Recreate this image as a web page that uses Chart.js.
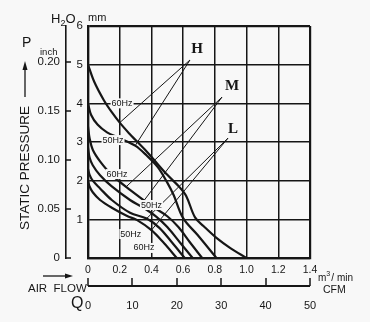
<!DOCTYPE html>
<meta charset="utf-8">
<title>Fan static pressure vs air flow</title>
<script src="https://cdn.jsdelivr.net/npm/chart.js@4/dist/chart.umd.min.js"></script>
<style>
body {
	margin: 0;
	background: #f8f8f8;
}
</style>
<canvas id="chart" width="370" height="322"></canvas>
<script>
// air flow in m3/min, static pressure in mm H2O
const h60Flow = [0, 0.04, 0.1, 0.15, 0.2, 0.26, 0.3, 0.36, 0.42, 0.5, 0.58, 0.62, 0.675, 0.73, 0.81, 0.9, 1.0];
const h60Pres = [5, 4.55, 4.08, 3.77, 3.5, 3.22, 3.05, 2.8, 2.52, 2.15, 1.82, 1.6, 1.05, 0.82, 0.52, 0.25, 0];
const h50Flow = [0, 0.02, 0.06, 0.12, 0.2, 0.3, 0.37, 0.44, 0.5, 0.54, 0.6, 0.69, 0.81];
const h50Pres = [4, 3.7, 3.45, 3.25, 3.1, 2.9, 2.65, 2.35, 1.95, 1.63, 1.03, 0.6, 0];
const m60Flow = [0, 0.01, 0.03, 0.076, 0.15, 0.265, 0.4, 0.5, 0.57, 0.64, 0.72];
const m60Pres = [3.4, 3.1, 2.8, 2.5, 2.15, 1.76, 1.35, 1.08, 0.8, 0.42, 0];
const m50Flow = [0, 0.01, 0.03, 0.076, 0.15, 0.265, 0.35, 0.43, 0.5, 0.58, 0.66];
const m50Pres = [2.85, 2.6, 2.4, 2.14, 1.85, 1.5, 1.3, 1.07, 0.8, 0.4, 0];
const l60Flow = [0, 0.01, 0.03, 0.076, 0.15, 0.265, 0.37, 0.45, 0.53, 0.61];
const l60Pres = [2.3, 2.15, 2.0, 1.8, 1.5, 1.17, 1.02, 0.78, 0.4, 0];
const l50Flow = [0, 0.01, 0.03, 0.076, 0.15, 0.25, 0.31, 0.4, 0.48, 0.56];
const l50Pres = [2.0, 1.85, 1.7, 1.5, 1.3, 1.08, 0.98, 0.72, 0.38, 0];

// leader lines: curve point -> label -> curve point
const hLeadFlow = [0.2, 0.643, 0.3];
const hLeadPres = [3.5, 5.12, 2.92];
const mLeadFlow = [0.24, 0.845, 0.33];
const mLeadPres = [1.84, 4.16, 1.36];
const lLeadFlow = [0.37, 0.883, 0.4];
const lLeadPres = [1.02, 3.1, 0.72];

// text labels placed in data units (flow, mm)
const curveNames = ['H', 'M', 'L'];
const curveNameFlow = [0.688, 0.908, 0.915];
const curveNamePres = [5.4, 4.44, 3.33];
const hzText = ['60Hz', '50Hz', '60Hz', '50Hz', '50Hz', '60Hz'];
const hzFlow = [0.215, 0.158, 0.183, 0.4, 0.27, 0.353];
const hzPres = [4.0, 3.05, 2.17, 1.37, 0.62, 0.26];

const INK = '#161616';
const BG = '#f8f8f8';
const SANS = '"Liberation Sans", Arial, sans-serif';
const SERIF = '"Liberation Serif", "DejaVu Serif", serif';

const pts = (xs, ys) => xs.map((x, i) => ({x: x, y: ys[i]}));

const curve = (xs, ys) => ({
	data: pts(xs, ys),
	borderColor: INK,
	borderWidth: 2.2,
	pointRadius: 0,
	tension: 0.35,
});

const leader = (xs, ys) => ({
	data: pts(xs, ys),
	borderColor: INK,
	borderWidth: 1,
	pointRadius: 0,
	tension: 0,
});

const deco = {
	id: 'deco',
	beforeDraw(chart) {
		const c = chart.ctx;
		c.save();
		c.fillStyle = BG;
		c.fillRect(0, 0, chart.width, chart.height);
		c.restore();
	},
	afterDatasetsDraw(chart) {
		const c = chart.ctx;
		const sx = chart.scales.x, sy = chart.scales.y;
		c.save();
		c.textAlign = 'center';
		c.textBaseline = 'middle';

		// Hz labels sit on a blank patch over the lines
		c.font = '9px ' + SANS;
		hzText.forEach((t, i) => {
			const px = sx.getPixelForValue(hzFlow[i]);
			const py = sy.getPixelForValue(hzPres[i]);
			const w = c.measureText(t).width;
			c.fillStyle = BG;
			c.fillRect(px - w / 2 - 1, py - 5, w + 2, 10);
			c.fillStyle = INK;
			c.fillText(t, px, py);
		});

		c.font = 'bold 15px ' + SERIF;
		curveNames.forEach((t, i) => {
			c.fillText(t, sx.getPixelForValue(curveNameFlow[i]), sy.getPixelForValue(curveNamePres[i]));
		});
		c.restore();
	},
	afterDraw(chart) {
		const c = chart.ctx;
		const sx = chart.scales.x, x2 = chart.scales.x2;
		const y2 = chart.scales.y2;
		c.save();
		c.strokeStyle = INK;
		c.fillStyle = INK;

		// inch scale tick marks point toward the plot
		c.lineWidth = 1.5;
		const yb = y2.right;
		y2.ticks.forEach(t => {
			const py = Math.round(y2.getPixelForValue(t.value));
			c.beginPath();
			c.moveTo(yb, py);
			c.lineTo(yb + 5, py);
			c.stroke();
		});

		// CFM scale: a baseline with ticks standing up
		const lineY = x2.top + 6;
		c.lineWidth = 2;
		c.beginPath();
		c.moveTo(x2.left, lineY);
		c.lineTo(x2.right, lineY);
		c.stroke();
		c.lineWidth = 1.5;
		x2.ticks.forEach(t => {
			const px = Math.round(x2.getPixelForValue(t.value));
			c.beginPath();
			c.moveTo(px, lineY);
			c.lineTo(px, lineY - 8);
			c.stroke();
		});

		// axis titles
		c.textBaseline = 'alphabetic';
		c.textAlign = 'left';
		c.font = '13px ' + SANS;
		c.fillText('H', 51, 23);
		const hw = c.measureText('H').width;
		c.font = '9px ' + SANS;
		c.fillText('2', 51 + hw, 26);
		c.font = '13px ' + SANS;
		c.fillText('O', 51 + hw + 5, 23);
		c.font = '11px ' + SANS;
		c.fillText('mm', 88, 21);

		c.font = '14px ' + SANS;
		c.fillText('P', 22, 47);
		c.font = '9.5px ' + SANS;
		c.fillText('inch', 40, 55);

		// pressure arrow
		c.lineWidth = 1.3;
		c.beginPath();
		c.moveTo(25, 97);
		c.lineTo(25, 66);
		c.stroke();
		c.beginPath();
		c.moveTo(25, 61);
		c.lineTo(22.5, 70);
		c.lineTo(27.5, 70);
		c.closePath();
		c.fill();

		c.save();
		c.translate(29, 168);
		c.rotate(-Math.PI / 2);
		c.textAlign = 'center';
		c.font = '13.5px ' + SANS;
		c.fillText('STATIC PRESSURE', 0, 0);
		c.restore();

		// flow arrow and titles
		c.beginPath();
		c.moveTo(43, 276);
		c.lineTo(67, 276);
		c.stroke();
		c.beginPath();
		c.moveTo(73, 276);
		c.lineTo(65, 273.5);
		c.lineTo(65, 278.5);
		c.closePath();
		c.fill();

		c.font = '11.5px ' + SANS;
		c.fillText('AIR  FLOW', 28, 292);
		c.font = '16px ' + SANS;
		c.fillText('Q', 71, 308);

		const rx = sx.right + 8;
		c.font = '10px ' + SANS;
		c.fillText('m', rx, 281);
		const mw = c.measureText('m').width;
		c.font = '7px ' + SANS;
		c.fillText('3', rx + mw, 276);
		c.font = '10px ' + SANS;
		c.fillText('/ min', rx + mw + 5, 281);
		c.font = '10.5px ' + SANS;
		c.fillText('CFM', rx + 5, 293);

		c.restore();
	}
};

const gridWidth = ctx => (ctx.index === 0 || ctx.index === ctx.scale.ticks.length - 1) ? 2.2 : 1.5;

new Chart(document.getElementById('chart'), {
	type: 'line',
	data: {
		datasets: [
			leader(hLeadFlow, hLeadPres),
			leader(mLeadFlow, mLeadPres),
			leader(lLeadFlow, lLeadPres),
			curve(h60Flow, h60Pres),
			curve(h50Flow, h50Pres),
			curve(m60Flow, m60Pres),
			curve(m50Flow, m50Pres),
			curve(l60Flow, l60Pres),
			curve(l50Flow, l50Pres),
		]
	},
	options: {
		responsive: false,
		animation: false,
		devicePixelRatio: 1,
		layout: {padding: {left: 0, right: 60, top: 26, bottom: 0}},
		plugins: {legend: {display: false}, tooltip: {enabled: false}},
		scales: {
			x: {
				type: 'linear',
				position: 'bottom',
				min: 0,
				max: 1.4,
				ticks: {
					stepSize: 0.2,
					padding: 6,
					color: INK,
					font: {family: SANS, size: 10.5},
					callback: v => v === 0 ? '0' : v.toFixed(1),
				},
				grid: {color: INK, lineWidth: gridWidth, drawTicks: false},
				border: {color: INK, width: 2.2},
				afterFit: s => { s.height = 22; },
			},
			x2: {
				type: 'linear',
				position: 'bottom',
				min: 0,
				max: 50,
				ticks: {
					stepSize: 10,
					padding: 11,
					color: INK,
					font: {family: SANS, size: 11},
				},
				grid: {display: false},
				border: {display: false},
				afterFit: s => { s.height = 42; },
			},
			y: {
				type: 'linear',
				position: 'left',
				weight: 0,
				min: 0,
				max: 6,
				ticks: {
					stepSize: 1,
					padding: 5,
					color: INK,
					font: {family: SANS, size: 11.5},
					callback: v => v === 0 ? '' : v,
				},
				grid: {color: INK, lineWidth: gridWidth, drawTicks: false},
				border: {color: INK, width: 2.2},
				afterFit: s => { s.width = 22; },
			},
			y2: {
				type: 'linear',
				position: 'left',
				weight: 1,
				min: 0,
				max: 6 / 25.4,
				ticks: {
					stepSize: 0.05,
					includeBounds: false,
					padding: 6,
					color: INK,
					font: {family: SANS, size: 11.5},
					callback: v => v === 0 ? '0' : v.toFixed(2),
				},
				grid: {drawOnChartArea: false, drawTicks: false},
				border: {color: INK, width: 1.6},
				afterFit: s => { s.width = 66; },
			},
		}
	},
	plugins: [deco]
});
</script>
